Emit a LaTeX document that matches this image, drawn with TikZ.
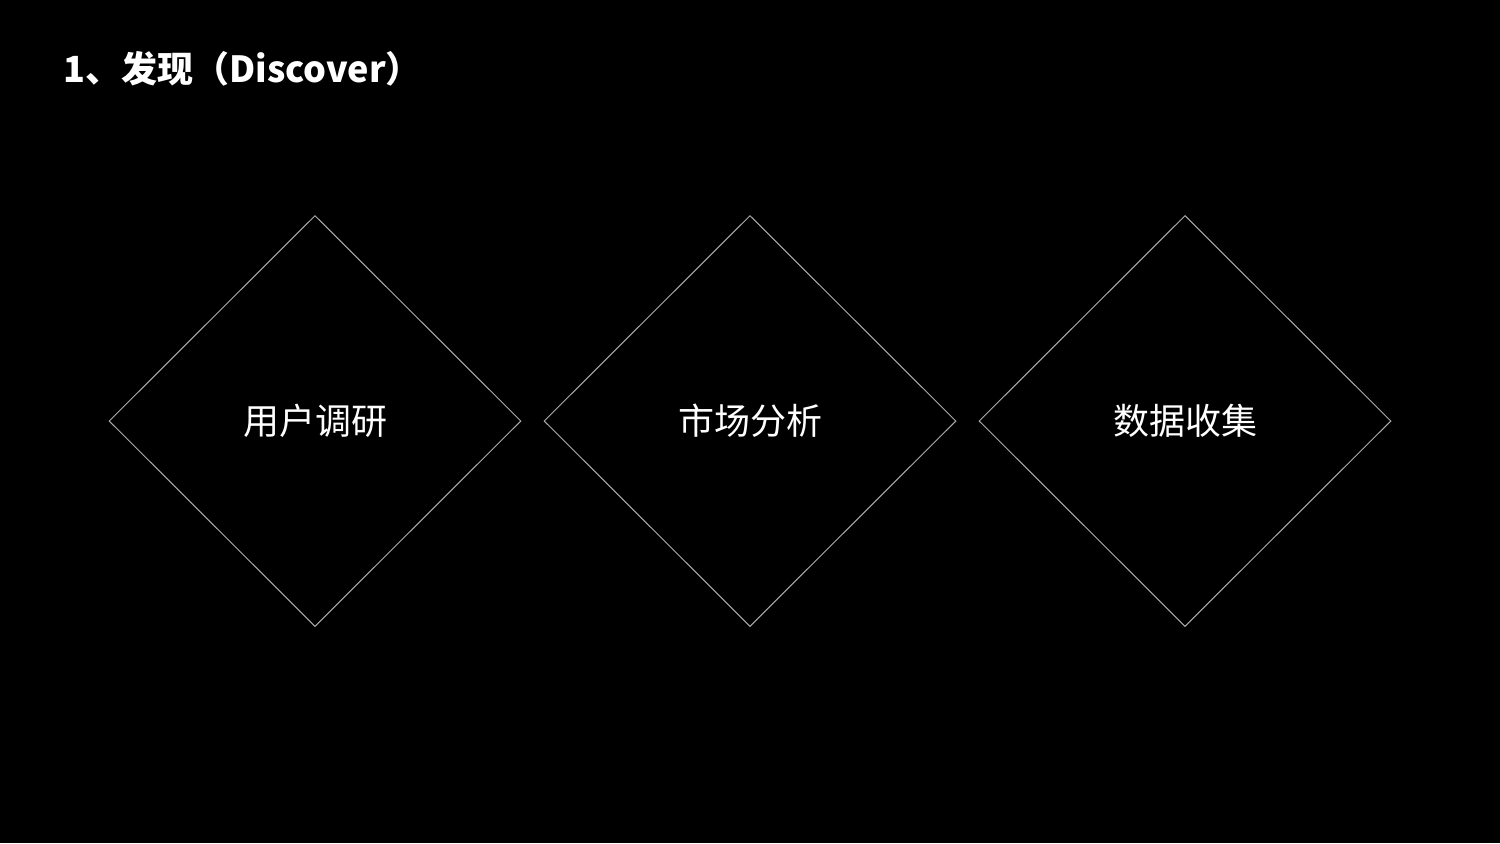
\documentclass[tikz,border=0pt]{standalone}
\usepackage{fontspec}
\newfontfamily\cjk{Noto Sans CJK SC}
\usetikzlibrary{shapes.geometric,positioning}

\tikzset{
  stage/.style={diamond,draw=gray!65,line width=0.5pt,text=white,
    minimum width=206pt,minimum height=205.5pt,inner sep=0pt,
    font=\cjk\fontsize{18pt}{20pt}\selectfont},
  heading/.style={anchor=west,text=white,inner sep=0pt,
    font=\cjk\bfseries\fontsize{18pt}{20pt}\selectfont}
}

\begin{document}
\begin{tikzpicture}[x=0.5pt,y=-0.5pt,node distance=11pt]
  \fill[black] (0,0) rectangle (1500,843);
  \useasboundingbox (0,0) rectangle (1500,843);
  \node[heading] (title) at (63,69) {1、发现（Discover）};
  \node[stage] (user) at (315,421) {用户调研};
  \node[stage, right=of user] (market) {市场分析};
  \node[stage, right=of market] (data) {数据收集};
\end{tikzpicture}
\end{document}
